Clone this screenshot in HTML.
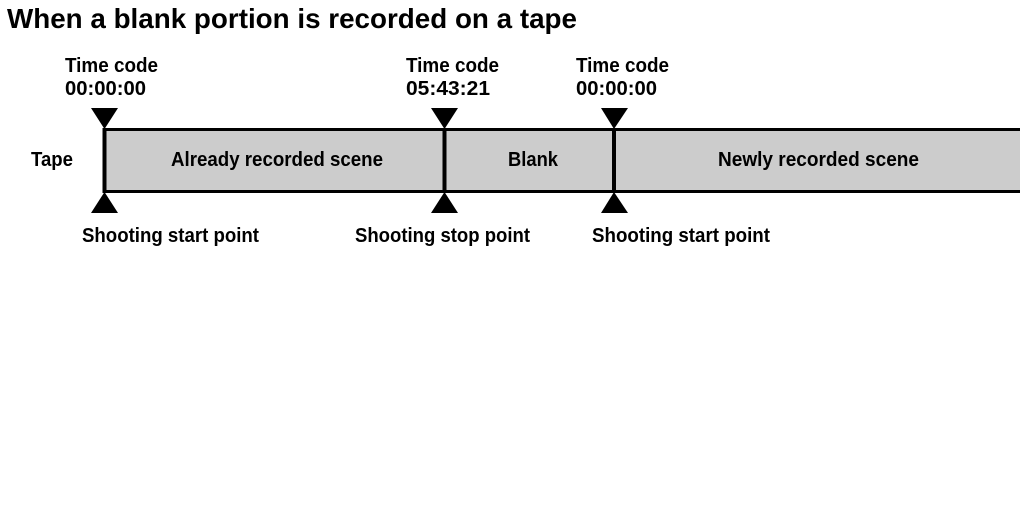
<!DOCTYPE html>
<html><head><meta charset="utf-8"><style>html,body{margin:0;padding:0;background:#fff}</style></head>
<body>
<svg width="1031" height="512" xmlns="http://www.w3.org/2000/svg" font-family="Liberation Sans, sans-serif" font-weight="bold" fill="#000">
<rect x="0" y="0" width="1031" height="512" fill="#fff"/>
<text x="7" y="28" font-size="28" textLength="570" lengthAdjust="spacingAndGlyphs">When a blank portion is recorded on a tape</text>
<rect x="104" y="129.5" width="916" height="62" fill="#cccccc"/>
<line x1="104" y1="129.5" x2="1020" y2="129.5" stroke="#000" stroke-width="3"/>
<line x1="104" y1="191.5" x2="1020" y2="191.5" stroke="#000" stroke-width="3"/>
<line x1="104.5" y1="128" x2="104.5" y2="193" stroke="#000" stroke-width="4"/>
<line x1="444.5" y1="128" x2="444.5" y2="193" stroke="#000" stroke-width="4"/>
<line x1="614" y1="128" x2="614" y2="193" stroke="#000" stroke-width="4"/>
<polygon points="91,108 118,108 104.5,129"/>
<polygon points="91,213 118,213 104.5,192"/>
<polygon points="431,108 458,108 444.5,129"/>
<polygon points="431,213 458,213 444.5,192"/>
<polygon points="601,108 628,108 614,129"/>
<polygon points="601,213 628,213 614,192"/>
<g font-size="20">
<text x="65" y="72" textLength="93" lengthAdjust="spacingAndGlyphs">Time code</text>
<text x="65" y="95" textLength="81" lengthAdjust="spacingAndGlyphs">00:00:00</text>
<text x="406" y="72" textLength="93" lengthAdjust="spacingAndGlyphs">Time code</text>
<text x="406" y="95" textLength="84" lengthAdjust="spacingAndGlyphs">05:43:21</text>
<text x="576" y="72" textLength="93" lengthAdjust="spacingAndGlyphs">Time code</text>
<text x="576" y="95" textLength="81" lengthAdjust="spacingAndGlyphs">00:00:00</text>
<text x="31" y="166" textLength="42" lengthAdjust="spacingAndGlyphs">Tape</text>
<text x="171" y="166" textLength="212" lengthAdjust="spacingAndGlyphs">Already recorded scene</text>
<text x="508" y="166" textLength="50" lengthAdjust="spacingAndGlyphs">Blank</text>
<text x="718" y="166" textLength="201" lengthAdjust="spacingAndGlyphs">Newly recorded scene</text>
<text x="82" y="242" textLength="177" lengthAdjust="spacingAndGlyphs">Shooting start point</text>
<text x="355" y="242" textLength="175" lengthAdjust="spacingAndGlyphs">Shooting stop point</text>
<text x="592" y="242" textLength="178" lengthAdjust="spacingAndGlyphs">Shooting start point</text>
</g>
</svg>
</body></html>
